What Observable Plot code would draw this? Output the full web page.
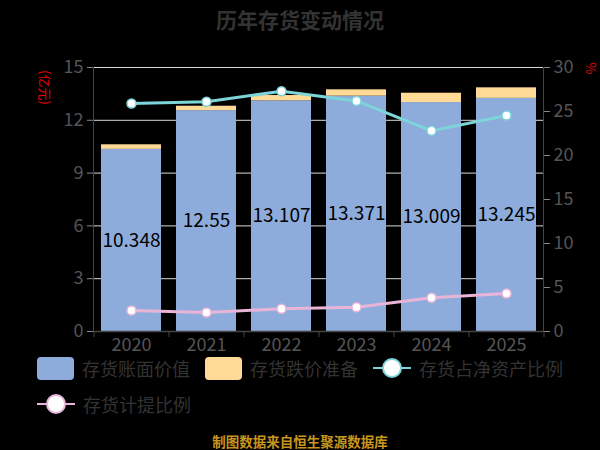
<!DOCTYPE html>
<html><head><meta charset="utf-8">
<script src="https://cdn.jsdelivr.net/npm/d3@7"></script>
<script src="https://cdn.jsdelivr.net/npm/@observablehq/plot@0.6"></script>
<style>
body{margin:0;background:#000;}
#wrap{position:relative;width:600px;height:450px;background:#000;overflow:hidden;font-family:"Noto Sans CJK SC","Noto Sans",sans-serif;}
#title{position:absolute;top:4px;left:0;width:600px;text-align:center;font-size:21px;font-weight:bold;color:#333;line-height:30px;}
#chart{position:absolute;top:40px;left:0;}
.unit{position:absolute;color:#e00;font-size:13px;transform:rotate(90deg);transform-origin:center;white-space:nowrap;line-height:15px;}
.lg{position:absolute;display:flex;align-items:center;font-size:18px;color:#333;height:26px;}
.sw{width:37px;height:23px;border-radius:4px;margin-right:8px;}
.ln{position:relative;width:38px;height:22px;margin-right:8px;}
.ln .bar{position:absolute;left:0;top:10px;width:38px;height:2px;}
.ln .c{position:absolute;left:9px;top:1px;width:16px;height:16px;border-radius:50%;background:#fff;border:2px solid;}
#cap{position:absolute;top:431px;left:0;width:600px;text-align:center;font-size:13.5px;font-weight:bold;color:#c8961e;}
</style></head>
<body>
<div id="wrap">
  <div id="title">历年存货变动情况</div>
  <div id="chart"></div>
  <div class="unit" style="left:28px;top:80px;">(亿元)</div>
  <div class="unit" style="left:586px;top:61px;">%</div>
  <div class="lg" style="left:37px;top:355px;"><div class="sw" style="background:#8eacdb"></div>存货账面价值</div>
  <div class="lg" style="left:205px;top:355px;"><div class="sw" style="background:#ffd996"></div>存货跌价准备</div>
  <div class="lg" style="left:373px;top:355px;"><div class="ln"><div class="bar" style="background:#7dd4d9"></div><div class="c" style="border-color:#7dd4d9"></div></div>存货占净资产比例</div>
  <div class="lg" style="left:37px;top:391px;"><div class="ln"><div class="bar" style="background:#e8b4d8"></div><div class="c" style="border-color:#e8b4d8"></div></div>存货计提比例</div>
  <div id="cap">制图数据来自恒生聚源数据库</div>
</div>
<script>
const years = ["2020","2021","2022","2023","2024","2025"];
const bookValue = [10.348, 12.55, 13.107, 13.371, 13.009, 13.245];
const bookLabels = ["10.348","12.55","13.107","13.371","13.009","13.245"];
const reserve = [0.26, 0.25, 0.30, 0.36, 0.53, 0.60];
const netAssetRatio = [25.9, 26.1, 27.3, 26.2, 22.8, 24.55];
const provisionRatio = [2.38, 2.16, 2.58, 2.76, 3.83, 4.31];
const leftTicks = [0, 3, 6, 9, 12, 15];
const rightTicks = [0, 5, 10, 15, 20, 25, 30];
const seriesNames = ["存货账面价值", "存货跌价准备"];

const bars = [];
years.forEach((y, i) => {
  bars.push({year: y, series: seriesNames[0], value: bookValue[i]});
  bars.push({year: y, series: seriesNames[1], value: reserve[i]});
});
const lineA = years.map((y, i) => ({year: y, v: netAssetRatio[i] / 2}));
const lineB = years.map((y, i) => ({year: y, v: provisionRatio[i] / 2}));
const labels = years.map((y, i) => ({year: y, mid: bookValue[i] / 2, t: bookLabels[i]}));

const plot = Plot.plot({
  width: 600, height: 320,
  marginTop: 27, marginBottom: 29, marginLeft: 93, marginRight: 57,
  style: {background: "transparent", fontFamily: "'Noto Sans CJK SC','Noto Sans',sans-serif"},
  x: {domain: years, paddingInner: 0.2, paddingOuter: 0.1, axis: null},
  y: {domain: [0, 15], axis: null},
  color: {domain: seriesNames, range: ["#8eacdb", "#ffd996"]},
  marks: [
    Plot.gridY(leftTicks.slice(1), {stroke: "#d8d8d8", strokeOpacity: 1}),
    Plot.barY(bars, {x: "year", y: "value", fill: "series", order: seriesNames}),
    Plot.text(labels, {x: "year", y: "mid", text: "t", fill: "#000", fontSize: 19}),
    Plot.line(lineA, {x: "year", y: "v", stroke: "#7dd4d9", strokeWidth: 3}),
    Plot.dot(lineA, {x: "year", y: "v", r: 4.5, fill: "#fff", stroke: "#7dd4d9", strokeWidth: 1.5}),
    Plot.line(lineB, {x: "year", y: "v", stroke: "#e8b4d8", strokeWidth: 3}),
    Plot.dot(lineB, {x: "year", y: "v", r: 4.5, fill: "#fff", stroke: "#e8b4d8", strokeWidth: 1.5}),
    Plot.axisY({anchor: "left", ticks: leftTicks, tickSize: 6, tickPadding: 4, fontSize: 18, color: "#555", stroke: "#888", label: null}),
    Plot.axisY({anchor: "right", ticks: rightTicks.map(d => d / 2), tickSize: 6, tickPadding: 4, fontSize: 18, color: "#555", stroke: "#888", tickFormat: d => String(d * 2), label: null}),
    Plot.axisX({anchor: "bottom", tickSize: 0, tickPadding: 7, fontSize: 18, color: "#555", label: null}),
    Plot.ruleX(years, {x: d => d, y1: 0, y2: 0, dx: -37.5, insetBottom: -6, stroke: "#444"}),
    Plot.ruleX([years[5]], {x: d => d, y1: 0, y2: 0, dx: 37.5, insetBottom: -6, stroke: "#444"}),
    Plot.ruleY([0], {stroke: "#444", strokeWidth: 1.5}),
    Plot.frame({anchor: "left", stroke: "#444"}),
    Plot.frame({anchor: "right", stroke: "#444"})
  ]
});
document.getElementById("chart").appendChild(plot);
</script>
</body></html>
